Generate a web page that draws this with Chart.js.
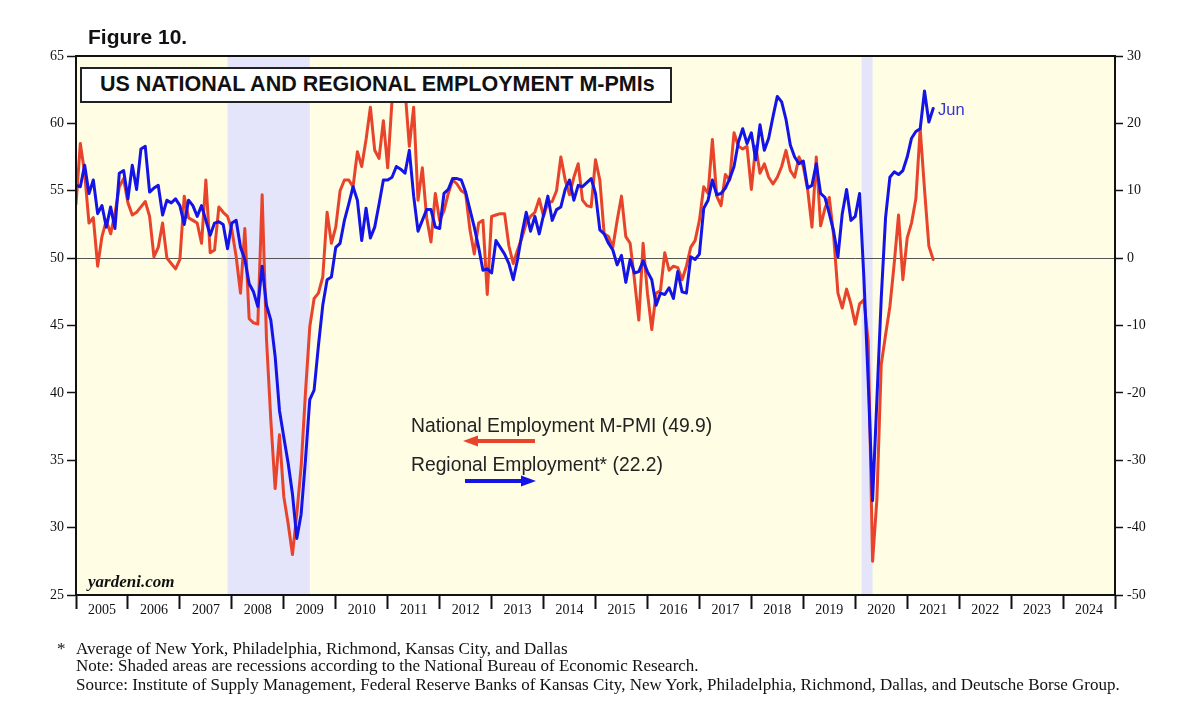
<!DOCTYPE html>
<html><head><meta charset="utf-8">
<script src="https://cdn.jsdelivr.net/npm/chart.js@4.4.1/dist/chart.umd.min.js"></script>
<style>
html,body{margin:0;padding:0;background:#fff;}
#wrap{position:relative;width:1200px;height:712px;overflow:hidden;background:#fff;}
#c{position:absolute;left:0;top:0;}
.t{position:absolute;white-space:nowrap;line-height:1;}
.sans{font-family:'Liberation Sans',Arial,sans-serif;}
.serif{font-family:'Liberation Serif','Times New Roman',serif;}
</style></head><body>
<div id="wrap">
<canvas id="c" width="1200" height="712"></canvas>
<div class="t sans" style="left:88px;top:26px;font-size:21px;font-weight:bold;color:#111;">Figure 10.</div>
<div style="position:absolute;left:80px;top:67px;width:588px;height:32px;background:#fff;border:2px solid #222;"></div>
<div class="t sans" style="left:100px;top:74px;font-size:21.5px;font-weight:bold;color:#111;">US NATIONAL AND REGIONAL EMPLOYMENT M-PMIs</div>
<div class="t sans" style="left:411px;top:416px;font-size:19.3px;color:#222;">National Employment M-PMI (49.9)</div>
<div class="t sans" style="left:411px;top:455px;font-size:19.3px;color:#222;">Regional Employment* (22.2)</div>
<div class="t sans" style="left:938px;top:101px;font-size:16.5px;color:#3535d0;">Jun</div>
<div class="t serif" style="left:88px;top:573px;font-size:17px;font-weight:bold;font-style:italic;color:#111;">yardeni.com</div>
<div class="t serif" style="left:57px;top:640px;font-size:17px;color:#111;">*</div>
<div class="t serif" style="left:76px;top:640px;font-size:17px;color:#111;">Average of New York, Philadelphia, Richmond, Kansas City, and Dallas</div>
<div class="t serif" style="left:76px;top:657px;font-size:17px;color:#111;">Note: Shaded areas are recessions according to the National Bureau of Economic Research.</div>
<div class="t serif" style="left:76px;top:676px;font-size:17px;color:#111;">Source: Institute of Supply Management, Federal Reserve Banks of Kansas City, New York, Philadelphia, Richmond, Dallas, and Deutsche Borse Group.</div>
</div>
<script>
const startYear = 2005;
const endYear = 2025;
const yearLabels = [2005,2006,2007,2008,2009,2010,2011,2012,2013,2014,2015,2016,2017,2018,2019,2020,2021,2022,2023,2024];
const leftTicks = [25,30,35,40,45,50,55,60,65];
const rightTicks = [-50,-40,-30,-20,-10,0,10,20,30];
const recessions = [[2007.917, 2009.5],[2020.125, 2020.333]];

// National Employment M-PMI (ISM), monthly
const national = [
54.0, 58.5, 56.3, 52.6, 53.0, 49.4, 51.6, 52.8, 51.8, 53.3, 55.3, 55.9,
54.1, 53.2, 53.4, 53.8, 54.2, 53.1, 50.1, 50.8, 52.6, 50.0, 49.6, 49.2,
49.9, 54.6, 53.0, 52.8, 52.6, 51.1, 55.8, 50.4, 50.6, 53.8, 53.4, 53.1,
52.1, 50.1, 47.4, 52.2, 45.5, 45.2, 45.1, 54.7, 44.0, 38.0, 32.9, 36.9,
32.3, 30.3, 28.0, 31.0, 34.5, 40.0, 44.9, 47.0, 47.4, 48.6, 53.4, 51.1,
52.3, 55.0, 55.8, 55.8, 55.3, 57.9, 56.8, 58.8, 61.2, 58.0, 57.4, 60.2,
56.7, 61.7, 64.0, 63.0, 62.5, 58.3, 61.2, 54.3, 56.7, 53.0, 51.2, 54.8,
52.8, 53.5, 54.8, 55.8, 55.5, 55.0, 54.8, 52.1, 50.3, 52.6, 52.8, 47.3,
53.1, 53.2, 53.3, 53.3, 50.9, 49.6, 50.6, 51.5, 52.6, 53.1, 53.4, 54.4,
53.1, 54.1, 54.2, 55.0, 57.5, 55.8, 54.7, 56.0, 57.0, 54.3, 53.9, 53.8,
57.3, 55.8, 51.8, 51.6, 50.8, 52.8, 54.6, 51.6, 51.1, 48.4, 45.4, 51.1,
47.4, 44.7, 47.4, 47.6, 50.4, 49.1, 49.4, 49.3, 48.4, 49.4, 50.8, 51.3,
52.8, 55.3, 54.8, 58.8, 54.6, 53.9, 56.2, 55.8, 59.3, 58.3, 58.1, 58.3,
55.1, 58.3, 56.3, 57.0, 56.0, 55.5, 56.0, 56.8, 58.0, 56.5, 56.0, 57.5,
56.8, 55.1, 52.3, 57.5, 52.4, 53.7, 54.5, 51.7, 47.4, 46.3, 47.7, 46.6,
45.1, 46.6, 46.9, 43.8, 27.5, 32.1, 42.1, 44.3, 46.4, 49.6, 53.2, 48.4,
51.5, 52.6, 54.4, 59.6, 55.1, 50.9, 49.9
];

// Regional Employment (average of 5 Fed district surveys), monthly, right axis
const regional = [
10.8, 10.6, 13.8, 9.6, 11.6, 6.6, 7.8, 4.6, 7.6, 4.4, 12.6, 13.0,
8.8, 13.8, 10.2, 16.2, 16.6, 9.8, 10.4, 10.8, 6.4, 8.6, 8.2, 8.8,
7.8, 5.0, 8.6, 7.8, 6.2, 7.8, 5.6, 3.4, 5.2, 5.4, 5.0, 1.4,
5.2, 5.6, 1.6, -0.2, -3.8, -5.0, -7.2, -1.2, -7.0, -9.2, -14.6, -22.6,
-26.6, -30.4, -35.0, -41.6, -38.0, -30.0, -21.0, -19.6, -13.0, -7.0, -3.2, -2.8,
1.6, 2.2, 5.6, 8.0, 10.6, 8.6, 2.6, 7.4, 3.0, 4.6, 8.0, 11.6,
11.6, 12.0, 13.6, 13.2, 12.6, 16.0, 9.2, 4.0, 5.6, 7.2, 7.2, 4.6,
4.4, 9.6, 10.2, 11.8, 11.8, 11.6, 9.8, 7.2, 4.6, 1.6, -1.8, -1.6,
-2.2, 2.6, 1.6, 0.6, -0.8, -3.2, -0.2, 3.6, 6.8, 4.0, 6.2, 3.6,
6.4, 9.2, 5.6, 7.2, 7.6, 10.2, 11.6, 8.6, 10.8, 10.6, 11.2, 11.8,
9.6, 4.2, 3.6, 2.2, 1.2, -1.0, 0.4, -3.6, -0.2, -2.2, -2.0, -0.4,
-2.0, -3.2, -7.0, -5.2, -5.4, -4.4, -6.0, -2.0, -5.0, -5.2, 0.2, -0.2,
0.6, 7.4, 8.6, 11.6, 9.4, 9.6, 10.4, 11.8, 13.6, 17.2, 19.2, 17.0,
18.6, 14.6, 19.8, 16.0, 17.8, 21.0, 24.0, 23.2, 20.6, 16.8, 15.0, 14.0,
14.4, 10.4, 10.8, 14.0, 9.6, 9.0, 6.6, 4.0, 0.2, 6.6, 10.2, 5.6,
6.2, 9.6, -3.0, -18.4, -36.0, -21.0, -6.0, 6.0, 12.0, 12.8, 12.4, 13.0,
15.0, 17.8, 18.8, 19.2, 24.8, 20.2, 22.2
];

const RED = '#e8432b';
const BLUE = '#1414e6';

const natPts = national.map((v, i) => ({x: startYear + i / 12, y: v}));
const regPts = regional.map((v, i) => ({x: startYear + i / 12, y: v}));

const bgPlugin = {
  id: 'bg',
  beforeDraw(chart) {
    const {ctx, chartArea: a, scales} = chart;
    ctx.save();
    ctx.fillStyle = '#fffde4';
    ctx.fillRect(a.left, a.top, a.right - a.left, a.bottom - a.top);
    ctx.fillStyle = '#e4e4fa';
    recessions.forEach(([s, e]) => {
      const x1 = scales.x.getPixelForValue(s), x2 = scales.x.getPixelForValue(e);
      ctx.fillRect(x1, a.top, x2 - x1, a.bottom - a.top);
    });
    ctx.restore();
  },
  afterDatasetsDraw(chart) {
    const {ctx, chartArea: a} = chart;
    ctx.save();
    ctx.strokeStyle = '#111';
    ctx.lineWidth = 2;
    ctx.strokeRect(a.left, a.top, a.right - a.left, a.bottom - a.top);
    ctx.restore();
  },
  afterDraw(chart) {
    const {ctx} = chart;
    function arrow(x1, x2, y, dir, color) {
      ctx.save();
      ctx.fillStyle = color; ctx.strokeStyle = color;
      ctx.lineWidth = 4;
      const tip = dir < 0 ? x1 : x2;
      const base = tip - dir * 15;
      ctx.beginPath();
      if (dir < 0) { ctx.moveTo(base, y); ctx.lineTo(x2, y); }
      else { ctx.moveTo(x1, y); ctx.lineTo(base, y); }
      ctx.stroke();
      ctx.beginPath();
      ctx.moveTo(tip, y); ctx.lineTo(base, y - 5.5); ctx.lineTo(base, y + 5.5); ctx.closePath();
      ctx.fill();
      ctx.restore();
    }
    arrow(463, 535, 441, -1, RED);
    arrow(465, 536, 481, 1, BLUE);
  }
};

const tickFont = {family: "'Liberation Serif', 'Times New Roman', serif", size: 14};

new Chart(document.getElementById('c'), {
  type: 'line',
  data: {
    datasets: [
      {label: 'Regional Employment*', data: regPts, yAxisID: 'yR', borderColor: BLUE, borderWidth: 3, pointRadius: 0, order: 0},
      {label: 'National Employment M-PMI', data: natPts, yAxisID: 'yL', borderColor: RED, borderWidth: 3, pointRadius: 0, order: 1}
    ]
  },
  options: {
    responsive: false, animation: false, devicePixelRatio: 1,
    layout: {padding: {top: 56, left: 0, right: 0, bottom: 0}},
    plugins: {legend: {display: false}, tooltip: {enabled: false}},
    elements: {line: {tension: 0, borderJoinStyle: 'round', borderCapStyle: 'round'}},
    scales: {
      x: {
        type: 'linear', min: startYear, max: endYear, position: 'bottom',
        afterBuildTicks: s => { s.ticks = yearLabels.concat([endYear]).map(v => ({value: v})); },
        ticks: {autoSkip: false, maxRotation: 0, minRotation: 0, labelOffset: 26, padding: -7, color: '#111', font: tickFont,
          callback: v => yearLabels.includes(v) ? String(v) : ''},
        grid: {drawOnChartArea: false, drawTicks: true, tickLength: 14, tickColor: '#111', tickWidth: 2},
        border: {display: true, color: '#111', width: 2},
        afterFit: s => { s.height = 117; }
      },
      yL: {
        type: 'linear', position: 'left', min: 25, max: 65,
        afterBuildTicks: s => { s.ticks = leftTicks.map(v => ({value: v})); },
        ticks: {color: '#111', font: tickFont, padding: 3},
        grid: {color: c => (c.tick && c.tick.value === 50) ? '#555' : 'rgba(0,0,0,0)', lineWidth: 1, drawTicks: true, tickLength: 9, tickColor: '#111', tickWidth: 1.5},
        border: {display: true, color: '#111', width: 2},
        afterFit: s => { s.width = 76; }
      },
      yR: {
        type: 'linear', position: 'right', min: -50, max: 30,
        afterBuildTicks: s => { s.ticks = rightTicks.map(v => ({value: v})); },
        ticks: {color: '#111', font: tickFont, padding: 4},
        grid: {drawOnChartArea: false, drawTicks: true, tickLength: 8, tickColor: '#111', tickWidth: 1.5},
        border: {display: true, color: '#111', width: 2},
        afterFit: s => { s.width = 85; }
      }
    }
  },
  plugins: [bgPlugin]
});
</script>
</body></html>
